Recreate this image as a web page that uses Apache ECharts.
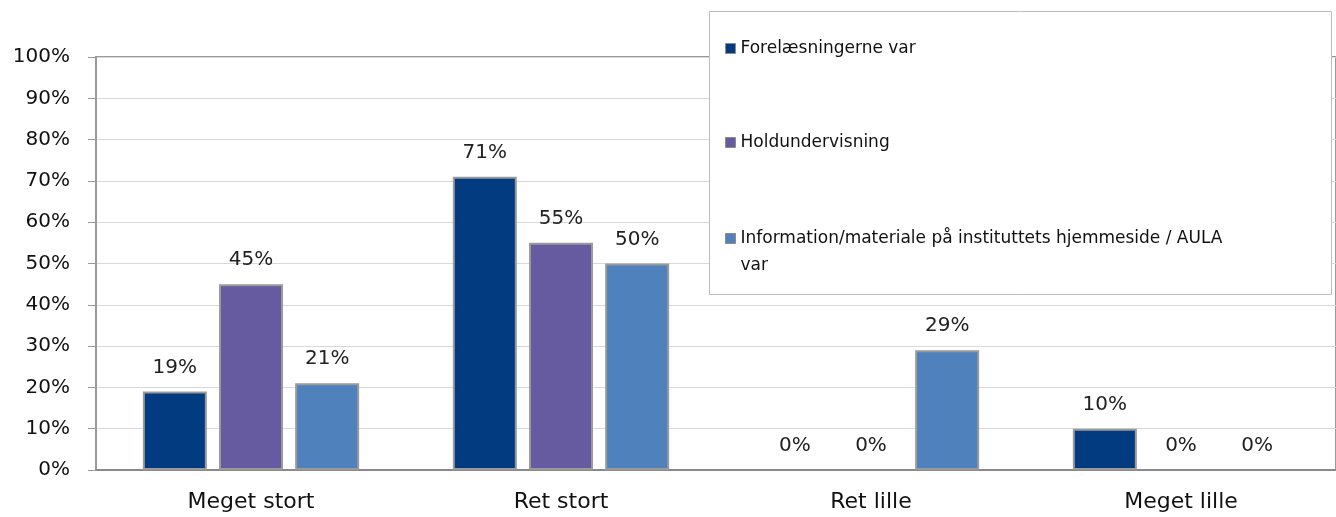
<!DOCTYPE html>
<html><head><meta charset="utf-8">
<script src="https://cdn.jsdelivr.net/npm/echarts@6/dist/echarts.min.js"></script>
<style>html,body{margin:0;padding:0;background:#fff}#c{width:1336px;height:517px}</style>
</head><body><div id="c"></div>
<script>
const categories = ['Meget stort', 'Ret stort', 'Ret lille', 'Meget lille'];
const seriesNames = ['Forelæsningerne var', 'Holdundervisning', 'Information/materiale på instituttets hjemmeside / AULA var'];
const forelaesninger = [19, 71, 0, 10];
const holdundervisning = [45, 55, 0, 0];
const information = [21, 50, 29, 0];
const yTicks = [0, 10, 20, 30, 40, 50, 60, 70, 80, 90, 100];
const colors = ['#023B80', '#665AA0', '#4F81BD'];

const FONT = 'DejaVu Sans';
const chart = echarts.init(document.getElementById('c'), null, {renderer: 'canvas'});
const values = [forelaesninger, holdundervisning, information];
const legendPads = [[25, 0, 25, 0], [25, 0, 25, 0], [0, 0, 0, 0]];
chart.setOption({
  animation: false,
  textStyle: {fontFamily: FONT},
  grid: {left: 96, right: 0, top: 57, bottom: 47, show: true, borderColor: '#9a9a9a', borderWidth: 2, backgroundColor: 'transparent'},
  graphic: [{type: 'rect', z: 50, shape: {x: 709.5, y: 11.5, width: 622, height: 283}, style: {fill: '#fff', stroke: '#bdbdbd', lineWidth: 1}}],
  legend: {
    orient: 'vertical', left: 720, top: 5, z: 60, itemGap: 17,
    itemWidth: 10, itemHeight: 10, icon: 'rect',
    itemStyle: {borderColor: '#8c8c8c', borderWidth: 1},
    formatter: n => n === seriesNames[2] ? '\n' + n : n,
    textStyle: {fontFamily: FONT, fontSize: 17, color: '#111', width: 500, overflow: 'break', lineHeight: 27},
    data: seriesNames.map((n, i) => ({name: n, textStyle: {padding: legendPads[i]}}))
  },
  xAxis: {
    type: 'category', data: categories,
    axisLine: {lineStyle: {color: '#8a8a8a', width: 2}},
    axisTick: {show: false},
    axisLabel: {fontFamily: FONT, fontSize: 22, color: '#111', margin: 21}
  },
  yAxis: {
    type: 'value', min: 0, max: 100, interval: 10,
    axisLine: {show: true, lineStyle: {color: '#9a9a9a', width: 2}},
    axisTick: {show: true, length: 8, lineStyle: {color: '#9a9a9a'}},
    splitLine: {lineStyle: {color: '#d9d9d9', width: 1}},
    axisLabel: {fontFamily: FONT, fontSize: 20, color: '#111', margin: 26,
      formatter: v => yTicks.includes(v) ? v + '%' : ''}
  },
  series: values.map((d, i) => ({
    name: seriesNames[i], type: 'bar',
    data: d.map(v => v === 0 ? {value: v, itemStyle: {borderWidth: 0}} : v),
    barWidth: 64, barGap: '19%', barCategoryGap: '30%',
    itemStyle: {color: colors[i], borderColor: '#9a9a9a', borderWidth: 2},
    label: {show: true, position: 'top', distance: 14, fontFamily: FONT, fontSize: 20, color: '#222', formatter: p => p.value + '%'}
  }))
});
</script></body></html>
